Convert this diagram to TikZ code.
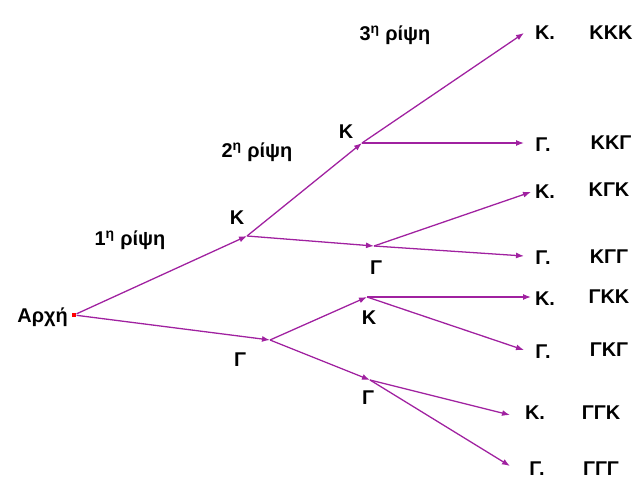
\documentclass[tikz,border=0pt]{standalone}
\usepackage{fontspec}
\setmainfont{Liberation Sans}
\usepackage{tikz}
\usetikzlibrary{positioning,arrows.meta}
\definecolor{branch}{HTML}{A021A0}

\begin{document}
\begin{tikzpicture}[
  x=0.03cm,y=-0.03cm,
  font=\bfseries\fontsize{17}{19}\selectfont,
  lbl/.style={inner sep=0pt},
  lnk/.style={-{Latex[length=2.4mm,width=1.8mm]},branch,line width=1.1pt}
]
\useasboundingbox (0,0) rectangle (637,487);
% root
\node[fill=red,inner sep=0pt,minimum size=1.4mm] (root) at (74,315) {};
\node[lbl,anchor=east] (arxi) at (68,317) {Αρχή};

% branch points
\coordinate (k)   at (247,236);
\coordinate (g)   at (270,340);
\coordinate (kk)  at (362,143);
\coordinate (kg)  at (374,246);
\coordinate (gk)  at (367,297);
\coordinate (gg)  at (370,380);

% ends
\coordinate (kkk) at (524,33);
\coordinate (kkg) at (524,143);
\coordinate (kgk) at (531,192);
\coordinate (kgg) at (524,256);
\coordinate (gkk) at (531,297);
\coordinate (gkg) at (524,350);
\coordinate (ggk) at (510,415);
\coordinate (ggg) at (510,466);

% first throw
\draw[lnk] (root) -- (k);
\draw[lnk] (root) -- (g);
% second throw
\draw[lnk] (k) -- (kk);
\draw[lnk] (k) -- (kg);
\draw[lnk] (g) -- (gk);
\draw[lnk] (g) -- (gg);
% third throw
\foreach \a/\b in {kk/kkk,kk/kkg,kg/kgk,kg/kgg,gk/gkk,gk/gkg,gg/ggk,gg/ggg}
  \draw[lnk] (\a) -- (\b);

% labels at branch points
\node[lbl] (lk)  at (237,218) {Κ};
\node[lbl] (lg)  at (240,360) {Γ};
\node[lbl] (lkk) at (346,132) {Κ};
\node[lbl] (lkg) at (376,268) {Γ};
\node[lbl] (lgk) at (369,318) {Κ};
\node[lbl] (lgg) at (368,398) {Γ};

% throw titles
\node[lbl] (t1) at (130,240) {1\textsuperscript{η} ρίψη};
\node[lbl] (t2) at (257,152) {2\textsuperscript{η} ρίψη};
\node[lbl] (t3) at (395,35)  {3\textsuperscript{η} ρίψη};

% outcomes
\node[lbl] (ekkk) at (545,33)  {Κ.};
\node[lbl] (ekkg) at (543,145) {Γ.};
\node[lbl] (ekgk) at (545,192) {Κ.};
\node[lbl] (ekgg) at (543,258) {Γ.};
\node[lbl] (egkk) at (545,299) {Κ.};
\node[lbl] (egkg) at (543,352) {Γ.};
\node[lbl] (eggk) at (535,413) {Κ.};
\node[lbl] (eggg) at (537,469) {Γ.};

\node[lbl] (skkk) at (611,33)  {ΚΚΚ};
\node[lbl] (skkg) at (611,143) {ΚΚΓ};
\node[lbl] (skgk) at (609,190) {ΚΓΚ};
\node[lbl] (skgg) at (609,257) {ΚΓΓ};
\node[lbl] (sgkk) at (609,297) {ΓΚΚ};
\node[lbl] (sgkg) at (609,350) {ΓΚΓ};
\node[lbl] (sggk) at (601,413) {ΓΓΚ};
\node[lbl] (sggg) at (601,469) {ΓΓΓ};
\end{tikzpicture}
\end{document}
